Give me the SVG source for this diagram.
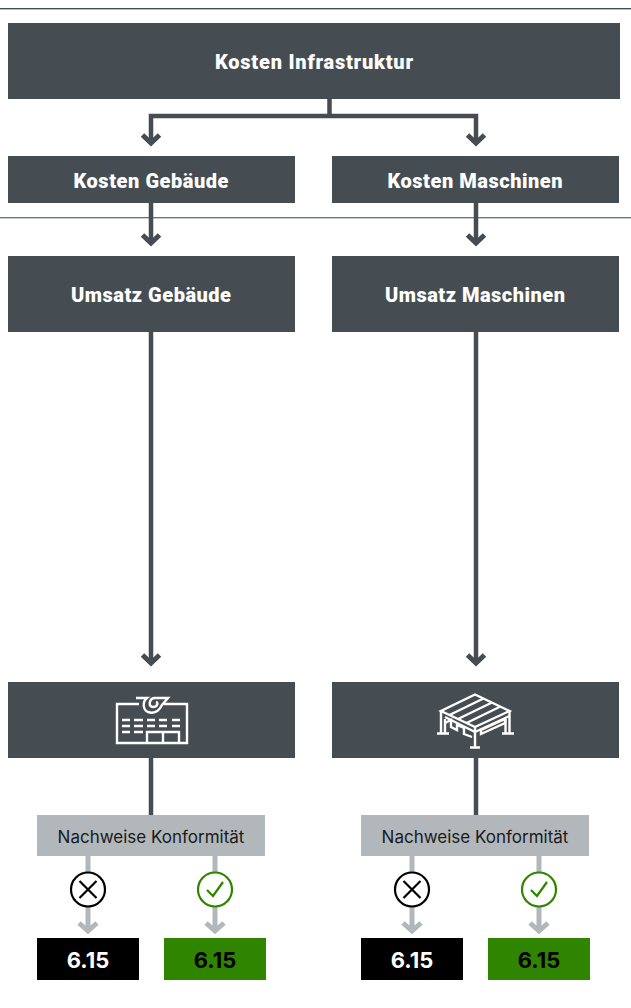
<svg xmlns="http://www.w3.org/2000/svg" width="631" height="1008" viewBox="0 0 631 1008">
<style>
.box{fill:#464d52}
.t{font-family:"Roboto","Liberation Sans",sans-serif;font-weight:900;font-size:20px;fill:#fff;text-anchor:middle}
.c{fill:none;stroke:#464d52;stroke-width:4.5}
.a{fill:none;stroke:#464d52;stroke-width:5}
.g{fill:none;stroke:#b1b7ba;stroke-width:5}
.ico{fill:none;stroke:#fff;stroke-width:2.4}
.lab{font-family:"Inter","Liberation Sans",sans-serif;font-size:17px;fill:#1a1a1a;text-anchor:middle}
.num{font-family:"Inter","Liberation Sans",sans-serif;font-weight:700;font-size:22px;text-anchor:middle}
.grey{fill:#b1b7ba}
</style>
<defs>
<g id="branch">
<path class="g" d="M51 855V880M51 900V930M42 923L51 931L60 923"/>
<path class="g" d="M178 855V880M178 900V930M169 923L178 931L187 923"/>
<rect class="grey" x="0" y="815" width="228" height="41"/>
<text class="lab" x="114" y="843">Nachweise Konformität</text>
<circle cx="51" cy="889.500" r="17" fill="#fff" stroke="#000" stroke-width="2.200"/>
<path d="M42.500 881L59.500 898M59.500 881L42.500 898" fill="none" stroke="#000" stroke-width="2.200"/>
<circle cx="178" cy="889.500" r="17" fill="#fff" stroke="#2f8400" stroke-width="2.200"/>
<path d="M170 890L176 896L186 882" fill="none" stroke="#2f8400" stroke-width="2.200"/>
<rect x="0" y="938" width="102" height="42" fill="#000"/>
<text class="num" x="51" y="968" fill="#fff">6.15</text>
<rect x="127" y="938" width="102" height="42" fill="#2f8400"/>
<text class="num" x="178" y="968" fill="#000">6.15</text>
</g>
</defs>
<g id="rules">
<path d="M0 8.500H631" stroke="#464d52" stroke-width="1"/>
<path d="M0 9.500H631" stroke="#b8c0c5" stroke-width="1"/>
<path d="M0 217.500H631" stroke="#6d7478" stroke-width="1"/>
<path d="M0 218.500H631" stroke="#c8ced2" stroke-width="1"/>
</g>
<g id="connectors">
<path class="c" d="M329.500 99V116M151 143V116H476V143"/>
<path class="a" d="M142.500 135L151 143L159.500 135M467.500 135L476 143L484.500 135"/>
<path class="c" d="M151 203V243M476 203V243"/>
<path class="a" d="M142.500 235L151 243L159.500 235M467.500 235L476 243L484.500 235"/>
<path class="c" d="M151 332V663M476 332V663"/>
<path class="a" d="M142.500 655L151 663L159.500 655M467.500 655L476 663L484.500 655"/>
<path class="c" d="M151 758V815M476 758V815"/>
</g>
<g id="kosten-infrastruktur"><rect class="box" x="8" y="23" width="612" height="76"/><text class="t" x="314" y="69" textLength="198">Kosten Infrastruktur</text></g>
<g id="kosten-gebaeude"><rect class="box" x="8" y="156" width="287" height="47"/><text class="t" x="151" y="188" textLength="155">Kosten Gebäude</text></g>
<g id="kosten-maschinen"><rect class="box" x="332" y="156" width="287" height="47"/><text class="t" x="475" y="188" textLength="175">Kosten Maschinen</text></g>
<g id="umsatz-gebaeude"><rect class="box" x="8" y="256" width="287" height="76"/><text class="t" x="151" y="302" textLength="160">Umsatz Gebäude</text></g>
<g id="umsatz-maschinen"><rect class="box" x="332" y="256" width="287" height="76"/><text class="t" x="475" y="302" textLength="180">Umsatz Maschinen</text></g>
<g id="gebaeude-icon"><rect class="box" x="8" y="682" width="287" height="76"/>
<path class="ico" d="M139 704H117V743H187V704H164"/>
<path class="ico" d="M147 743V732H179V743M163 732V743"/>
<path class="ico" d="M122 720H130M134 720H143M147 720H155M159 720H167M172 720H180M122 726H130M134 726H143M147 726H155M159 726H167M172 726H180M122 732H130M134 732H143"/>
<path class="ico" d="M136 698H147C142 702 143 710 148 712C154 714 159 711 162 705L168 698H154C149 699 148 707 153 707C157 707 159 703 156 702"/>
</g>
<g id="maschinen-icon"><rect class="box" x="332" y="682" width="287" height="76"/>
<path class="ico" d="M475 694.500L509.500 711L475 727L441 711Z"/>
<path class="ico" d="M449.500 715L483.500 698.500M458 719L492 702.500M466.500 723L500.500 706.500"/>
<path class="ico" d="M441 711V733M445 719V733M509.500 711V733M505.500 719V733M437 733.500H449M502 733.500H514M475 733V747M470 747.500H480"/>
<path class="ico" d="M445 717L475 732L509.500 716M475 727V733"/>
<path class="ico" d="M445 723L451 720V727L457 730V725L464 728V734L472 737"/>
<path class="ico" d="M481 730L505 719V723L481 734Z"/>
</g>
<g id="nachweis-links" transform="translate(37 0)"><use href="#branch"/></g>
<g id="nachweis-rechts" transform="translate(361 0)"><use href="#branch"/></g>
</svg>
